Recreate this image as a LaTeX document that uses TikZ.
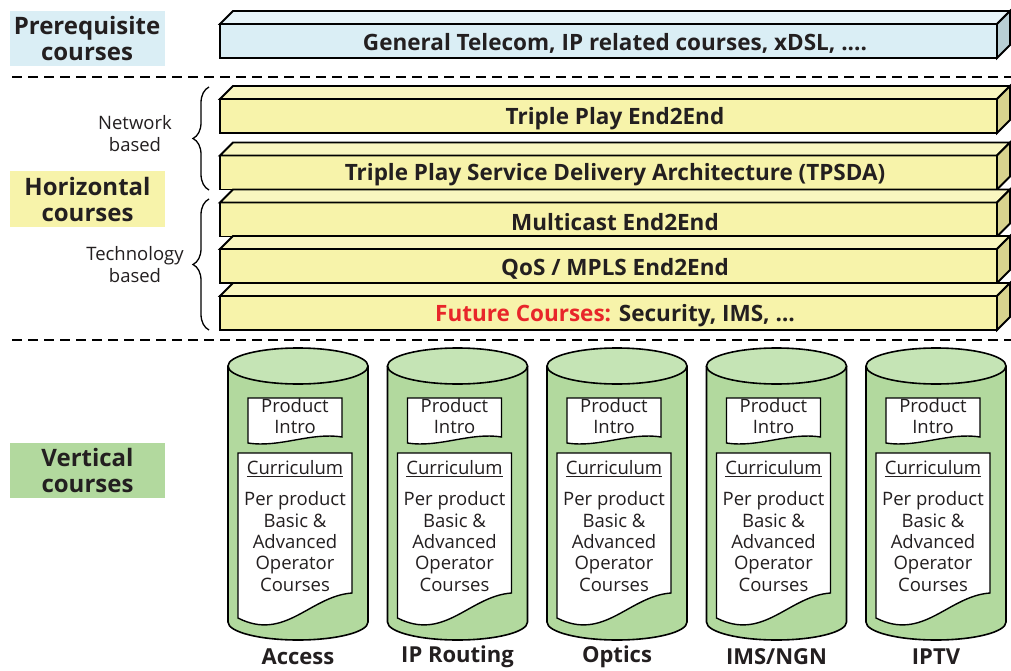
\documentclass[tikz,border=0pt]{standalone}
\usepackage{fontspec}
\setmainfont{Open Sans}
\usetikzlibrary{decorations.pathreplacing}
\usetikzlibrary{calc}

\definecolor{ink}{RGB}{35,31,32}
\definecolor{blufront}{RGB}{218,238,245}
\definecolor{blutop}{RGB}{231,244,249}
\definecolor{bluside}{RGB}{184,207,213}
\definecolor{yelfront}{RGB}{247,243,170}
\definecolor{yeltop}{RGB}{249,246,192}
\definecolor{yelside}{RGB}{216,211,142}
\definecolor{cylgreen}{RGB}{178,217,158}
\definecolor{cyllight}{RGB}{197,228,181}
\definecolor{futred}{RGB}{232,38,42}

\tikzset{
  face/.style={draw=black, line width=1.8pt},
  slab/.style={face, minimum width=777pt, minimum height=34pt, inner sep=0pt, outer sep=0pt},
  slabtext/.style={text=ink, font=\fontsize{22.5}{26}\selectfont\bfseries},
  catbox/.style={minimum width=155pt, minimum height=55pt, text=ink, align=center,
    font=\fontsize{24}{26}\selectfont\bfseries},
  side/.style={text=ink, align=center, font=\fontsize{18.5}{22}\selectfont},
  sep/.style={line width=2.6pt, dash pattern=on 10pt off 6pt},
  cyl/.style={draw=black, line width=1.6pt, fill=cylgreen},
  doc/.style={draw=black, line width=1.4pt, fill=white},
  doctext/.style={text=ink, align=center, font=\fontsize{18.5}{21.3}\selectfont},
  prod/.style={text=ink, font=\fontsize{22}{24}\selectfont\bfseries},
}

% one 3D course slab: name, centre y of front face, colour set, text
\newcommand{\slab}[4]{%
  \node[slab, fill=#3front] (#1) at (608.5,#2) {};
  \draw[face, fill=#3top] (#1.north west) -- ++(13,-13) -- ++(777,0) -- (#1.north east) -- cycle;
  \draw[face, fill=#3side] (#1.north east) -- ++(13,-13) -- ++(0,34) -- (#1.south east) -- cycle;
  \node[slabtext] (#1-txt) at ([xshift=6.5, yshift=-2.5]#1.center) {#4};
}

\begin{document}
\begin{tikzpicture}[x=1pt, y=-1pt]
        \path[fill=white, use as bounding box] (0,0) rectangle (1011,671);

        % categories %
        \node[catbox, fill=blufront] (prereq) at (87,38.5) {Prerequisite\\courses};
        \node[catbox, fill=yelfront] (horiz) at (87.5,199) {Horizontal\\courses};
        \node[catbox, fill=cylgreen] (vert) at (87.5,470) {Vertical\\courses};

        % separators %
        \draw[sep] (12,77) -- (1011,77);
        \draw[sep] (12,340) -- (1011,340);

        % slabs %
        \slab{pre}{41}{blu}{General Telecom, IP related courses, xDSL, ....}
        \slab{tpe}{116}{yel}{Triple Play End2End}
        \slab{tpsda}{172.5}{yel}{Triple Play Service Delivery Architecture (TPSDA)}
        \slab{mc}{219.5}{yel}{Multicast End2End}
        \slab{qos}{266}{yel}{QoS / MPLS End2End}
        \slab{fut}{313}{yel}{\textcolor{futred}{Future Courses:} Security, IMS, \dots}

        % braces %
        \draw[decorate, decoration={brace, amplitude=16pt}, line width=1.3pt] (209,190) -- (209,87);
        \draw[decorate, decoration={brace, amplitude=16pt}, line width=1.3pt] (209,330) -- (209,199);
        \node[side] (net) at (135,134) {Network\\based};
        \node[side] (tech) at (135,265) {Technology\\based};

        % product cylinders %
        \foreach \cx/\name/\lbl in {298/acc/Access, 457.5/ipr/IP Routing, 617/opt/Optics,
                                    776.5/ims/{IMS/NGN}, 936/iptv/IPTV} {
          \pgfmathsetmacro{\dx}{\cx-3}
          \draw[cyl] (\cx-70,366) -- (\cx-70,622) arc[start angle=180, end angle=360, x radius=70pt, y radius=18pt] -- (\cx+70,366);
          \draw[cyl, fill=cyllight] (\cx,366) ellipse [x radius=70pt, y radius=18pt];
          % documents
          \draw[doc] (\dx-47,398) -- (\dx+47,398) -- (\dx+47,437) .. controls (\dx+15,432) and (\dx-15,448) .. (\dx-47,443) -- cycle;
          \node[doctext] (\name-intro) at (\dx,416) {Product\\Intro};
          \draw[doc] (\dx-57,453) -- (\dx+57,453) -- (\dx+57,593) .. controls (\dx+15,596) and (\dx-10,642) .. (\dx-57,618) -- cycle;
          \node[doctext, anchor=north] (\name-cur) at (\dx,457) {\underline{Curriculum}\\[10pt]Per product\\Basic \&\\Advanced\\Operator\\Courses};
          \node[prod] (\name) at (\cx,657) {\lbl};
        }
\end{tikzpicture}
\end{document}
